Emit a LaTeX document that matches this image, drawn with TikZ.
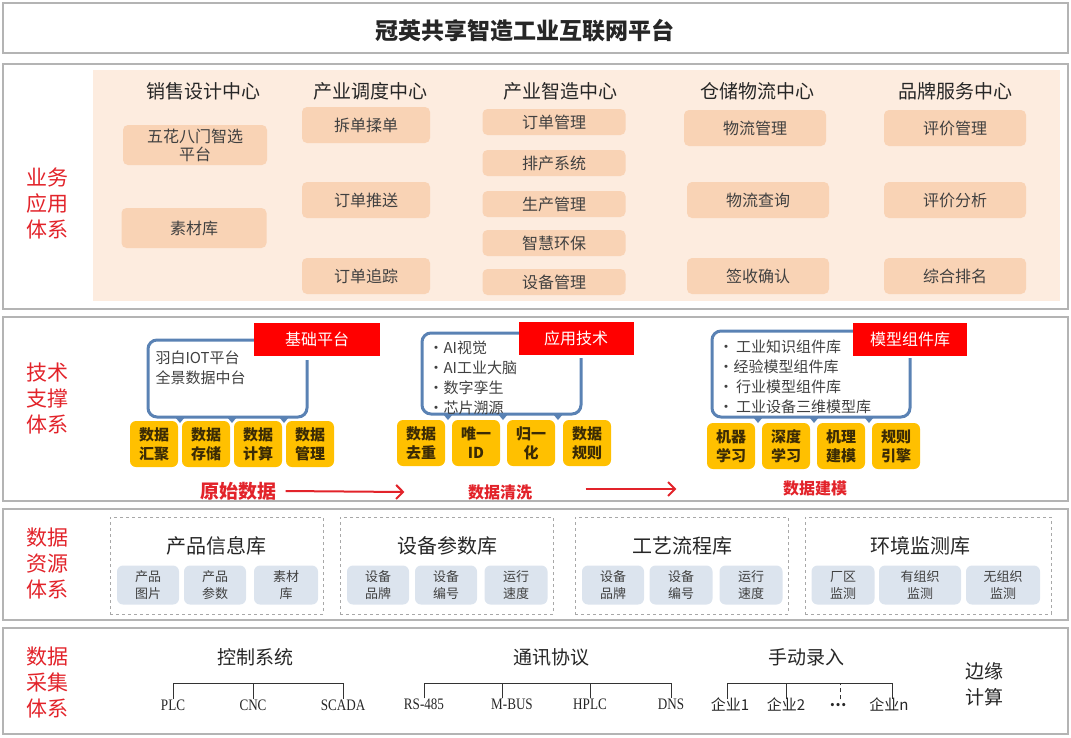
\documentclass[tikz,border=0pt]{standalone}
\usepackage{fontspec}
\setmainfont{Noto Sans CJK SC}
\newfontfamily\latserif{Liberation Serif}[FakeStretch=0.82]
\usepackage{tikz}
\usetikzlibrary{arrows.meta}

\definecolor{framegray}{HTML}{B4B4B4}
\definecolor{peachbg}{HTML}{FDECDF}
\definecolor{peachitem}{HTML}{F9D3B5}
\definecolor{labelred}{HTML}{E2232A}
\definecolor{boxred}{HTML}{FF0000}
\definecolor{bracketblue}{HTML}{5A82B4}
\definecolor{gold}{HTML}{FFC000}
\definecolor{goldtext}{HTML}{3B2B05}
\definecolor{paleblue}{HTML}{DCE4EE}
\definecolor{dashgray}{HTML}{A8A8A8}
\definecolor{inktext}{HTML}{404040}

\tikzset{
  layer/.style={draw=framegray, line width=2pt},
  sidelabel/.style={text=labelred, align=center, font=\fontsize{21}{26}\selectfont},
  centre/.style={text=black!85, font=\fontsize{19}{22}\selectfont},
  bizitem/.style={fill=peachitem, rounded corners=5pt, text=inktext, align=center,
    font=\fontsize{16}{18}\selectfont},
  tagbox/.style={fill=boxred, text=white, minimum width=#1, minimum height=33pt,
    font=\fontsize{16}{18}\selectfont},
  bracket/.style={draw=bracketblue, line width=3pt, rounded corners=9pt},
  notch/.style={fill=bracketblue},
  techbox/.style={fill=gold, rounded corners=6pt, minimum width=48pt, minimum height=46pt,
    align=center, text=goldtext, font=\bfseries\fontsize{15}{19}\selectfont},
  listtext/.style={anchor=north west, align=left, text=inktext, font=\fontsize{15}{20}\selectfont},
  flowlabel/.style={text=labelred, font=\bfseries\fontsize{16}{18}\selectfont},
  flowarrow/.style={draw=labelred, line width=2pt, -{Straight Barb[length=7pt,width=14pt]}},
  libbox/.style={draw=dashgray, dashed, line width=0.8pt},
  libtitle/.style={text=black!85, font=\fontsize{20}{22}\selectfont},
  libitem/.style={fill=paleblue, rounded corners=6pt, minimum height=39pt, align=center,
    text=inktext, font=\fontsize{13}{17}\selectfont},
  leaf/.style={text=black!85, inner sep=1pt, text height=10pt, text depth=1pt,
    font=\fontsize{15}{17}\selectfont},
  branch/.style={draw=black!80, line width=1pt},
}

\begin{document}
\begin{tikzpicture}[x=1pt,y=-1pt]
  \useasboundingbox (0,0) rectangle (1071,737);

  % Title
  \draw[layer] (3,3) rectangle (1068,53);
  \node[font=\bfseries\fontsize{23}{26}\selectfont, text=black!85] (title) at (525,31)
    {冠英共享智造工业互联网平台};

  % Business layer
  \draw[layer] (3,64) rectangle (1068,309);
  \fill[peachbg] (93,70) rectangle (1060,301);
  \node[sidelabel] (bizlabel) at (47,203) {业务\\应用\\体系};

  \node[centre] (sales) at (203,91) {销售设计中心};
  \node[centre] (dispatch) at (370,91) {产业调度中心};
  \node[centre] (making) at (560,91) {产业智造中心};
  \node[centre] (storage) at (757,91) {仓储物流中心};
  \node[centre] (brand) at (955,91) {品牌服务中心};

  \node[bizitem, minimum width=144pt, minimum height=40pt] (b11) at (195,145) {五花八门智选\\平台};
  \node[bizitem, minimum width=145pt, minimum height=40pt] (b12) at (194,228) {素材库};
  \foreach \nm/\y/\txt in {b21/125/拆单揉单, b22/200/订单推送, b23/276/订单追踪}
    \node[bizitem, minimum width=128pt, minimum height=36pt] (\nm) at (366,\y) {\txt};
  \foreach \nm/\y/\txt in {b31/122/订单管理, b32/163/排产系统, b33/204/生产管理,
                           b34/243/智慧环保, b35/282/设备管理}
    \node[bizitem, minimum width=143pt, minimum height=26pt] (\nm) at (554,\y) {\txt};
  \foreach \nm/\x/\y/\txt in {b41/755/128/物流管理, b42/758/200/物流查询, b43/758/276/签收确认}
    \node[bizitem, minimum width=142pt, minimum height=36pt] (\nm) at (\x,\y) {\txt};
  \foreach \nm/\y/\txt in {b51/128/评价管理, b52/200/评价分析, b53/276/综合排名}
    \node[bizitem, minimum width=142pt, minimum height=36pt] (\nm) at (955,\y) {\txt};

  % Tech layer
  \draw[layer] (3,317) rectangle (1068,501);
  \node[sidelabel] (techlabel) at (47,398) {技术\\支撑\\体系};

  \draw[bracket] (262,340) -- (148,340) -- (148,417) -- (307,417) -- (307,360);
  \foreach \x in {180,232,284}
    \fill[notch] (\x-5,417) -- (\x+5,417) -- (\x,423) -- cycle;
  \node[tagbox=126pt] (basetag) at (317,339) {基础平台};
  \node[listtext] (basetext) at (152,347) {羽白IOT平台\\全景数据中台};

  \draw[bracket] (525,333) -- (422,333) -- (422,414) -- (581,414) -- (581,358);
  \foreach \x in {448,503,558}
    \fill[notch] (\x-5,414) -- (\x+5,414) -- (\x,420) -- cycle;
  \node[tagbox=115pt] (apptag) at (576,338) {应用技术};
  \node[listtext] (apptext) at (425,337) {•AI视觉\\•AI工业大脑\\•数字孪生\\•芯片溯源};

  \draw[bracket] (860,331) -- (712,331) -- (712,417) -- (910,417) -- (910,358);
  \foreach \x in {758,814,869}
    \fill[notch] (\x-5,417) -- (\x+5,417) -- (\x,423) -- cycle;
  \node[tagbox=114pt] (modeltag) at (910,339) {模型组件库};
  \node[listtext] (modeltext) at (715,336)
    {•\,工业知识组件库\\•经验模型组件库\\•\,行业模型组件库\\•\,工业设备三维模型库};

  \foreach \nm/\x/\txt in {t11/154/{数据\\汇聚}, t12/206/{数据\\存储},
                           t13/258/{数据\\计算}, t14/310/{数据\\管理}}
    \node[techbox] (\nm) at (\x,444) {\txt};
  \foreach \nm/\x/\txt in {t21/421/{数据\\去重}, t22/476/{唯一\\ID},
                           t23/531/{归一\\化}, t24/587/{数据\\规则}}
    \node[techbox] (\nm) at (\x,443) {\txt};
  \foreach \nm/\x/\txt in {t31/731/{机器\\学习}, t32/786/{深度\\学习},
                           t33/841/{机理\\建模}, t34/896/{规则\\引擎}}
    \node[techbox] (\nm) at (\x,446) {\txt};

  \node[flowlabel, font=\bfseries\fontsize{19}{21}\selectfont] (rawdata) at (238,491) {原始数据};
  \node[flowlabel] (cleandata) at (500,492) {数据清洗};
  \node[flowlabel] (modeldata) at (815,488) {数据建模};
  \draw[flowarrow] ([xshift=6pt]rawdata.east) -- ([xshift=-60pt]cleandata.west);
  \draw[flowarrow] ([xshift=50pt,yshift=3pt]cleandata.east) -- ([xshift=-103pt,yshift=-1pt]modeldata.west);

  % Data resource layer
  \draw[layer] (3,509) rectangle (1068,620);
  \node[sidelabel] (reslabel) at (47,563) {数据\\资源\\体系};

  \node[libbox, minimum width=213pt, minimum height=97pt] (prodlib) at (216.5,565.5) {};
  \node[libbox, minimum width=213pt, minimum height=97pt] (devlib) at (446.5,565.5) {};
  \node[libbox, minimum width=213pt, minimum height=97pt] (proclib) at (681.5,565.5) {};
  \node[libbox, minimum width=246pt, minimum height=97pt] (envlib) at (928,565.5) {};

  \node[libtitle] (prodtitle) at (216,546) {产品信息库};
  \node[libtitle] (devtitle) at (447,546) {设备参数库};
  \node[libtitle] (proctitle) at (682,546) {工艺流程库};
  \node[libtitle] (envtitle) at (920,546) {环境监测库};

  \foreach \nm/\x/\w/\txt in {p1/148/62/{产品\\图片}, p2/215/62/{产品\\参数}, p3/286/64/{素材\\库},
                              d1/378/62/{设备\\品牌}, d2/446/62/{设备\\编号}, d3/516/63/{运行\\速度},
                              c1/613/62/{设备\\品牌}, c2/681/63/{设备\\编号}, c3/751/63/{运行\\速度},
                              e1/843/63/{厂区\\监测}, e2/920/82/{有组织\\监测}, e3/1003/74/{无组织\\监测}}
    \node[libitem, minimum width=\w pt] (\nm) at (\x,585) {\txt};

  % Collection layer
  \draw[layer] (3,628) rectangle (1068,734);
  \node[sidelabel] (collabel) at (47,682) {数据\\采集\\体系};

  \node[centre] (ctrl) at (255,657) {控制系统};
  \node[centre] (comm) at (551,657) {通讯协议};
  \node[centre] (manual) at (806,657) {手动录入};
  \node[centre, align=center, font=\fontsize{19}{26}\selectfont] (edgecalc) at (984,684) {边缘\\计算};

  \coordinate (barline) at (0,683);
  \node[leaf, font=\latserif\fontsize{16}{17}\selectfont] (plc) at (173,706) {PLC};
  \node[leaf, font=\latserif\fontsize{16}{17}\selectfont] (cnc) at (253,706) {CNC};
  \node[leaf, font=\latserif\fontsize{16}{17}\selectfont] (scada) at (343,706) {SCADA};
  \node[leaf, font=\latserif\fontsize{16}{17}\selectfont] (rs) at (424,705) {RS-485};
  \node[leaf, font=\latserif\fontsize{16}{17}\selectfont] (mbus) at (512,705) {M-BUS};
  \node[leaf, font=\latserif\fontsize{16}{17}\selectfont] (hplc) at (590,705) {HPLC};
  \node[leaf, font=\latserif\fontsize{16}{17}\selectfont] (dns) at (671,705) {DNS};
  \node[leaf] (ent1) at (730,706) {企业1};
  \node[leaf] (ent2) at (786,706) {企业2};
  \node[leaf] (entdots) at (838,706) {\raisebox{4pt}{\textbf{…}}};
  \node[leaf] (entn) at (889,706) {企业n};

  \draw[branch] (plc.north) -- (plc.north |- barline) -| (scada.north);
  \draw[branch] (cnc.north) -- (cnc.north |- barline);
  \draw[branch] (rs.north) -- (rs.north |- barline) -| (dns.north);
  \draw[branch] ([xshift=-10pt]mbus.north) -- ([xshift=-10pt]mbus.north |- barline);
  \draw[branch] (hplc.north) -- (hplc.north |- barline);
  \draw[branch] ([xshift=-3pt]ent1.north) -- ([xshift=-3pt]ent1.north |- barline) -| ([xshift=3pt]entn.north);
  \draw[branch] (ent2.north) -- (ent2.north |- barline);
  \draw[branch, dash pattern=on 4pt off 3pt] ([xshift=2pt]entdots.north) -- ([xshift=2pt]entdots.north |- barline);
\end{tikzpicture}
\end{document}
